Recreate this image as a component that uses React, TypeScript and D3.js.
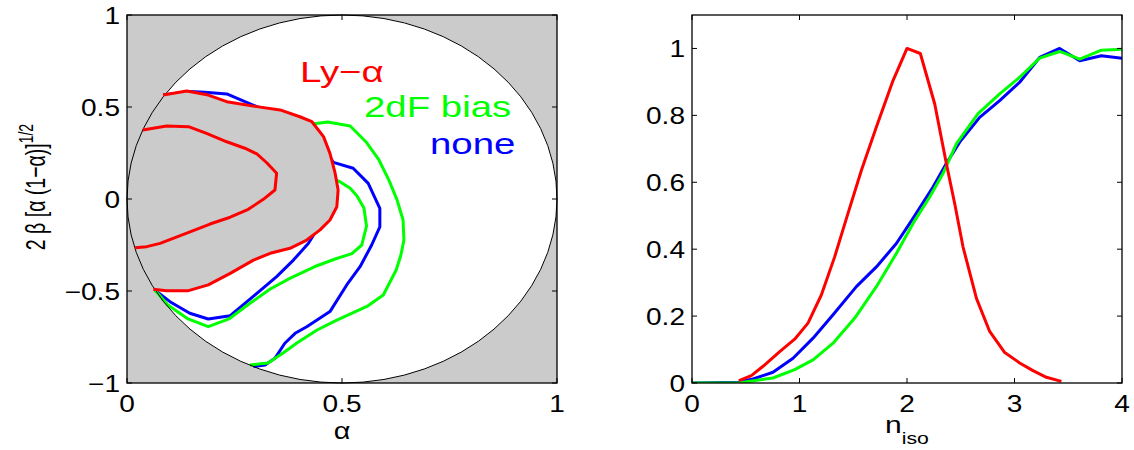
import React from 'react';
import * as d3 from 'd3';

type P = [number, number];

// ---- Left panel: contours in (alpha, 2*beta*sqrt(alpha(1-alpha))) ----
const lyaOuter: P[] = [
  [0.084, 0.565], [0.139, 0.587], [0.189, 0.565], [0.232, 0.529], [0.302, 0.502], [0.356, 0.484],
  [0.402, 0.447], [0.43, 0.42], [0.457, 0.339], [0.472, 0.248], [0.484, 0.14], [0.491, 0.049],
  [0.488, -0.042], [0.472, -0.114], [0.449, -0.168], [0.418, -0.223], [0.379, -0.268], [0.333, -0.295],
  [0.294, -0.332], [0.24, -0.404], [0.189, -0.467], [0.143, -0.498], [0.092, -0.498], [0.061, -0.491],
];
const lyaInner: P[] = [
  [0.037, 0.375], [0.092, 0.397], [0.143, 0.393], [0.185, 0.357], [0.232, 0.311], [0.274, 0.276],
  [0.302, 0.245], [0.325, 0.197], [0.348, 0.14], [0.344, 0.049], [0.317, -0.002], [0.282, -0.056],
  [0.24, -0.099], [0.193, -0.136], [0.139, -0.186], [0.077, -0.241], [0.046, -0.259], [0.019, -0.265],
];
const noneOuter: P[] = [
  [0.084, 0.565], [0.146, 0.584], [0.181, 0.58], [0.232, 0.571], [0.302, 0.502], [0.351, 0.467],
  [0.395, 0.424], [0.426, 0.375], [0.453, 0.293], [0.48, 0.199], [0.526, 0.167], [0.561, 0.085],
  [0.588, -0.051], [0.588, -0.151], [0.569, -0.25], [0.542, -0.368], [0.511, -0.467], [0.472, -0.612],
  [0.418, -0.694], [0.391, -0.73], [0.367, -0.784], [0.344, -0.866], [0.321, -0.902], [0.294, -0.911],
];
const noneInner: P[] = [
  [0.065, -0.495], [0.1, -0.558], [0.146, -0.621], [0.189, -0.652], [0.24, -0.634], [0.302, -0.513],
  [0.348, -0.422], [0.387, -0.332], [0.422, -0.241], [0.441, -0.168], [0.453, -0.103],
];
const biasOuter: P[] = [
  [0.414, 0.402], [0.44, 0.41], [0.467, 0.418], [0.519, 0.397], [0.556, 0.31], [0.586, 0.212],
  [0.609, 0.103], [0.628, -0.005], [0.642, -0.114], [0.644, -0.223], [0.637, -0.304], [0.626, -0.386],
  [0.596, -0.522], [0.558, -0.584], [0.488, -0.658], [0.442, -0.712], [0.395, -0.783], [0.363, -0.837],
  [0.328, -0.891], [0.286, -0.902],
];
const biasInner: P[] = [
  [0.065, -0.495], [0.095, -0.576], [0.142, -0.652], [0.189, -0.694], [0.237, -0.652], [0.286, -0.567],
  [0.333, -0.489], [0.381, -0.429], [0.437, -0.367], [0.484, -0.326], [0.523, -0.297], [0.546, -0.25],
  [0.557, -0.147], [0.551, -0.049], [0.535, 0.016], [0.519, 0.058], [0.495, 0.094], [0.472, 0.114],
];

const leftXTicks = [0, 0.5, 1];
const leftXTickLabels = ['0', '0.5', '1'];
const leftYTicks = [-1, -0.5, 0, 0.5, 1];
const leftYTickLabels = ['\u22121', '\u22120.5', '0', '0.5', '1'];

// ---- Right panel: curves vs n_iso ----
const noneCurve: P[] = [
  [0, 0], [0.43, 0.002], [0.567, 0.012], [0.753, 0.032], [0.94, 0.074], [1.126, 0.134], [1.312, 0.204],
  [1.529, 0.288], [1.715, 0.347], [1.901, 0.417], [2.056, 0.492], [2.242, 0.586], [2.366, 0.656],
  [2.49, 0.72], [2.676, 0.794], [2.862, 0.844], [3.048, 0.899], [3.234, 0.973], [3.42, 1.0],
  [3.607, 0.963], [3.808, 0.978], [4, 0.971],
];
const biasCurve: P[] = [
  [0, 0], [0.43, 0], [0.753, 0.015], [0.955, 0.04], [1.126, 0.069], [1.312, 0.119], [1.514, 0.194],
  [1.715, 0.288], [1.901, 0.387], [2.056, 0.477], [2.211, 0.556], [2.335, 0.626], [2.459, 0.715],
  [2.661, 0.805], [2.862, 0.864], [3.048, 0.914], [3.234, 0.971], [3.42, 0.991], [3.607, 0.968],
  [3.808, 0.995], [4, 0.998],
];
const lyaCurve: P[] = [
  [0.437, 0.007], [0.552, 0.022], [0.661, 0.05], [0.816, 0.094], [0.955, 0.131], [1.079, 0.179],
  [1.203, 0.263], [1.327, 0.377], [1.451, 0.507], [1.576, 0.636], [1.715, 0.765], [1.87, 0.904],
  [2.0, 1.0], [2.124, 0.985], [2.258, 0.834], [2.366, 0.656], [2.444, 0.536], [2.521, 0.407],
  [2.646, 0.253], [2.769, 0.154], [2.909, 0.091], [3.048, 0.06], [3.172, 0.037], [3.297, 0.017],
  [3.436, 0.005],
];
const rightXTicks = [0, 1, 2, 3, 4];
const rightXTickLabels = ['0', '1', '2', '3', '4'];
const rightYTicks = [0, 0.2, 0.4, 0.6, 0.8, 1];
const rightYTickLabels = ['0', '0.2', '0.4', '0.6', '0.8', '1'];

const legendLabels = ['Ly\u2212\u03b1', '2dF bias', 'none'];

const RED = '#ff0000';
const GREEN = '#00ff00';
const BLUE = '#0000ff';
const GRAY = '#cbcbcb';
const FONT = '"Liberation Sans", Arial, Helvetica, sans-serif';
const SX = 1.22; // horizontal stretch of text

export default function App() {
  const xL = d3.scaleLinear().domain([0, 1]).range([127, 557]);
  const yL = d3.scaleLinear().domain([-1, 1]).range([383, 15]);
  const xR = d3.scaleLinear().domain([0, 4]).range([692, 1122]);
  const yR = d3.scaleLinear().domain([0, 1.1]).range([383, 15]);

  const lineL = d3.line<P>().x((d) => xL(d[0])).y((d) => yL(d[1]));
  const lineR = d3.line<P>().x((d) => xR(d[0])).y((d) => yR(d[1]));

  const fillPoly: P[] = [
    ...lyaOuter,
    [0, lyaOuter[lyaOuter.length - 1][1]],
    [0, lyaOuter[0][1]],
  ];

  const tickLen = 5;
  const txt = (x: number, y: number, s: string, anchor: string, size: number, color = '#000', key?: any) => (
    <text
      key={key}
      transform={`translate(${x},${y}) scale(${SX},1)`}
      textAnchor={anchor}
      fontSize={size}
      fill={color}
      fontFamily={FONT}
    >
      {s}
    </text>
  );

  const contourStyle = { fill: 'none', strokeWidth: 3, strokeLinejoin: 'round' as const };

  return (
    <svg width={1134} height={450} style={{ position: 'absolute', left: 0, top: 0, background: '#fff' }}>
      {/* LEFT PANEL */}
      <rect x={xL(0)} y={yL(1)} width={xL(1) - xL(0)} height={yL(-1) - yL(1)} fill={GRAY} />
      <ellipse cx={xL(0.5)} cy={yL(0)} rx={xL(1) - xL(0.5)} ry={yL(0) - yL(1)} fill="#fff" />
      <path d={lineL(noneOuter)!} stroke={BLUE} {...contourStyle} />
      <path d={lineL(noneInner)!} stroke={BLUE} {...contourStyle} />
      <path d={lineL(biasOuter)!} stroke={GREEN} {...contourStyle} />
      <path d={lineL(biasInner)!} stroke={GREEN} {...contourStyle} />
      <path d={lineL(fillPoly)! + 'Z'} fill={GRAY} stroke="none" />
      <ellipse cx={xL(0.5)} cy={yL(0)} rx={xL(1) - xL(0.5)} ry={yL(0) - yL(1)} fill="none" stroke="#000" strokeWidth={1} />
      <path d={lineL(lyaOuter)!} stroke={RED} {...contourStyle} />
      <path d={lineL(lyaInner)!} stroke={RED} {...contourStyle} />
      <rect x={xL(0)} y={yL(1)} width={xL(1) - xL(0)} height={yL(-1) - yL(1)} fill="none" stroke="#000" strokeWidth={1.3} />
      {leftXTicks.map((t, i) => (
        <g key={'lx' + i}>
          <line x1={xL(t)} x2={xL(t)} y1={yL(-1)} y2={yL(-1) - tickLen} stroke="#000" />
          <line x1={xL(t)} x2={xL(t)} y1={yL(1)} y2={yL(1) + tickLen} stroke="#000" />
          {txt(xL(t), 412, leftXTickLabels[i], 'middle', 23)}
        </g>
      ))}
      {leftYTicks.map((t, i) => (
        <g key={'ly' + i}>
          <line x1={xL(0)} x2={xL(0) + tickLen} y1={yL(t)} y2={yL(t)} stroke="#000" />
          <line x1={xL(1)} x2={xL(1) - tickLen} y1={yL(t)} y2={yL(t)} stroke="#000" />
          {txt(120, yL(t) + 9, leftYTickLabels[i], 'end', 23)}
        </g>
      ))}
      <text transform={`translate(${xL(0.5)},439) scale(1.2,1)`} textAnchor="middle" fontSize={24} fontFamily={FONT}>
        {'\u03b1'}
      </text>
      <text
        transform={`translate(45,187) scale(1.45,1) rotate(-90)`}
        textAnchor="middle"
        fontSize={19.5}
        fontFamily={FONT}
      >
        {'2 \u03b2 [\u03b1 (1\u2212\u03b1)]'}
        <tspan fontSize={14} dy={-8}>1/2</tspan>
      </text>
      {/* legend */}
      <text transform={`translate(300,82) scale(1.28,1)`} fontSize={30} fill={RED} fontFamily={FONT}>{legendLabels[0]}</text>
      <text transform={`translate(364,117) scale(1.28,1)`} fontSize={30} fill={GREEN} fontFamily={FONT}>{legendLabels[1]}</text>
      <text transform={`translate(430,154) scale(1.28,1)`} fontSize={30} fill={BLUE} fontFamily={FONT}>{legendLabels[2]}</text>

      {/* RIGHT PANEL */}
      <defs>
        <clipPath id="clipR">
          <rect x={xR(0)} y={yR(1.1)} width={xR(4) - xR(0)} height={yR(0) - yR(1.1)} />
        </clipPath>
      </defs>
      <g clipPath="url(#clipR)">
        <path d={lineR(noneCurve)!} stroke={BLUE} {...contourStyle} />
        <path d={lineR(biasCurve)!} stroke={GREEN} {...contourStyle} />
        <path d={lineR(lyaCurve)!} stroke={RED} {...contourStyle} />
      </g>
      <rect x={xR(0)} y={yR(1.1)} width={xR(4) - xR(0)} height={yR(0) - yR(1.1)} fill="none" stroke="#000" strokeWidth={1.3} />
      {rightXTicks.map((t, i) => (
        <g key={'rx' + i}>
          <line x1={xR(t)} x2={xR(t)} y1={yR(0)} y2={yR(0) - tickLen} stroke="#000" />
          <line x1={xR(t)} x2={xR(t)} y1={yR(1.1)} y2={yR(1.1) + tickLen} stroke="#000" />
          {txt(xR(t), 412, rightXTickLabels[i], 'middle', 23)}
        </g>
      ))}
      {rightYTicks.map((t, i) => (
        <g key={'ry' + i}>
          <line x1={xR(0)} x2={xR(0) + tickLen} y1={yR(t)} y2={yR(t)} stroke="#000" />
          <line x1={xR(4)} x2={xR(4) - tickLen} y1={yR(t)} y2={yR(t)} stroke="#000" />
          {txt(685, yR(t) + 9, rightYTickLabels[i], 'end', 23)}
        </g>
      ))}
      <text transform={`translate(${xR(2)},433) scale(1.25,1)`} textAnchor="middle" fontSize={24} fontFamily={FONT}>
        n<tspan fontSize={17} dy={11}>iso</tspan>
      </text>
    </svg>
  );
}
